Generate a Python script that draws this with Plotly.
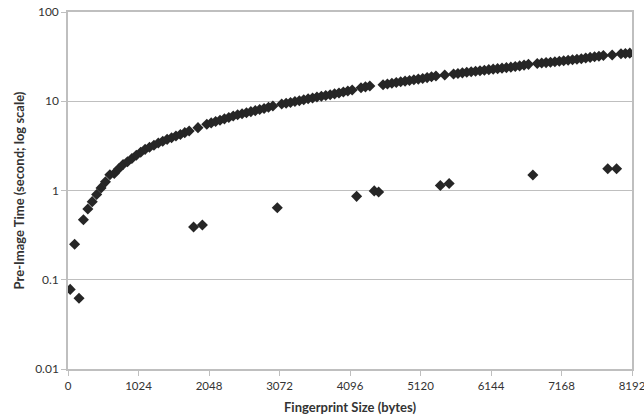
import plotly.graph_objects as go

# Fingerprint sizes (bytes)
sizes = [32 + 64 * k for k in range(128)]

# Pre-image time (seconds)
times = [
    0.078, 0.25, 0.062, 0.47, 0.62, 0.75, 0.90, 1.07, 1.25, 1.50,
    1.55, 1.75, 1.96, 2.10, 2.28, 2.48, 2.68, 2.89, 3.05, 3.22,
    3.40, 3.57, 3.74, 3.90, 4.07, 4.25, 4.45, 4.64, 0.39, 5.06,
    0.41, 5.52, 5.72, 5.93, 6.13, 6.35, 6.58, 6.84, 7.05, 7.25,
    7.45, 7.65, 7.85, 8.07, 8.30, 8.55, 8.85, 0.64, 9.30, 9.50,
    9.70, 9.92, 10.15, 10.4, 10.65, 10.9, 11.15, 11.4, 11.6, 11.85,
    12.1, 12.4, 12.7, 13.0, 13.4, 0.86, 14.2, 14.5, 14.8, 0.99,
    0.96, 15.3, 15.6, 15.9, 16.2, 16.5, 16.8, 17.1, 17.4, 17.7,
    18.0, 18.4, 18.8, 19.2, 1.14, 19.7, 1.20, 20.2, 20.5, 20.8,
    21.1, 21.4, 21.7, 22.0, 22.3, 22.6, 22.9, 23.2, 23.5, 23.8,
    24.1, 24.5, 24.9, 25.4, 25.9, 1.49, 26.5, 26.8, 27.1, 27.4,
    27.7, 28.0, 28.4, 28.8, 29.2, 29.6, 30.0, 30.5, 31.0, 31.5,
    32.0, 32.5, 1.75, 33.0, 1.75, 34.0, 34.3, 34.6,
]

x_ticks = [0, 1024, 2048, 3072, 4096, 5120, 6144, 7168, 8192]
y_ticks = [0.01, 0.1, 1, 10, 100]
y_tick_labels = ["0.01", "0.1", "1", "10", "100"]

fig = go.Figure()
fig.add_trace(go.Scatter(
    x=sizes, y=times, mode="markers",
    marker=dict(symbol="diamond", size=8.5, color="#262626"),
    showlegend=False,
))

font_family = "Lato, 'Liberation Sans', sans-serif"
fig.update_layout(
    width=644, height=415,
    margin=dict(l=68, r=12, t=12, b=46),
    paper_bgcolor="white", plot_bgcolor="white",
    font=dict(family=font_family, size=12, color="#333333"),
)
fig.update_xaxes(
    range=[0, 8192], tickvals=x_ticks, ticktext=[str(v) for v in x_ticks],
    showgrid=False, zeroline=False, automargin=False,
    showline=True, linecolor="#bfbfbf", linewidth=1.5, mirror=True,
    ticks="outside", ticklen=5, tickcolor="#bfbfbf",
    tickfont=dict(size=11.5, color="#333333"),
    ticklabeloverflow="allow",
    title=dict(text="<b>Fingerprint Size (bytes)</b>", font=dict(size=13, color="#333333"), standoff=12),
)
fig.update_yaxes(
    type="log", range=[-2, 2], tickvals=y_ticks, ticktext=y_tick_labels,
    showgrid=True, gridcolor="#bfbfbf", gridwidth=1, zeroline=False, automargin=False,
    showline=True, linecolor="#bfbfbf", linewidth=1.5, mirror=True,
    ticks="outside", ticklen=5, tickcolor="#bfbfbf",
    tickfont=dict(size=12, color="#333333"),
    ticklabeloverflow="allow",
    title=dict(text="<b>Pre-Image Time (second; log scale)</b>", font=dict(size=13, color="#333333"), standoff=8),
)

fig.write_html(
    "out.html",
    config={"displayModeBar": False},
    post_script="document.body.style.margin='0';document.body.style.overflow='hidden';",
)
